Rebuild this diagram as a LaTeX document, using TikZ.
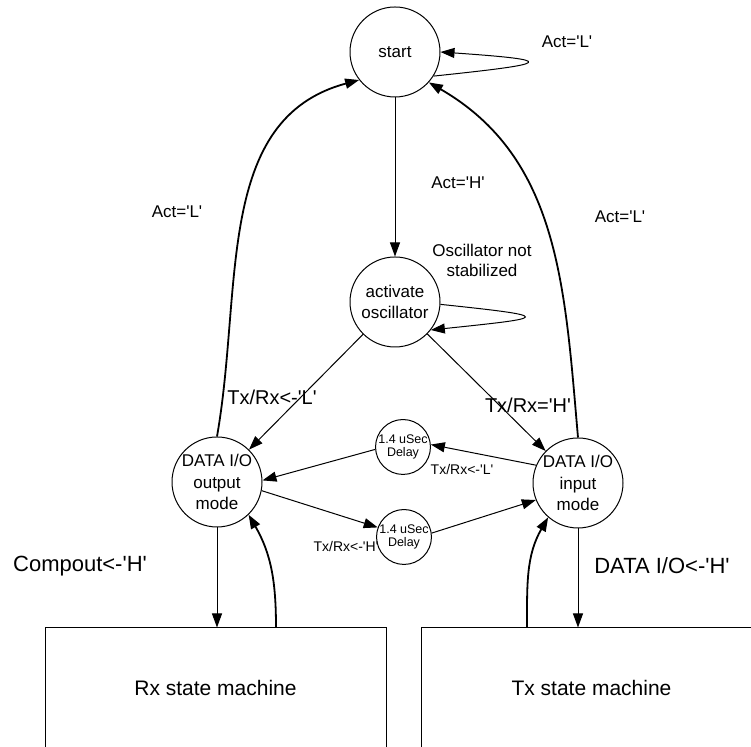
\documentclass[tikz,border=0pt]{standalone}
\usepackage{fontspec}
\setmainfont{Liberation Sans}
\usepackage{tikz}
\usetikzlibrary{automata,positioning,arrows.meta,calc}

\newcommand{\sq}{\textquotesingle}

\begin{document}
\begin{tikzpicture}[x=0.5pt,y=0.5pt,node distance=90pt,on grid,auto,
        >={Triangle[length=7pt,width=5pt]},line width=0.5pt,
        every state/.style={minimum size=45pt,inner sep=0pt,font=\fontsize{8.5}{10.6}\selectfont},
        delay/.style={state,minimum size=26pt,font=\fontsize{6.25}{6.5}\selectfont},
        machine/.style={draw,rectangle,minimum width=170.5pt,minimum height=60.5pt,font=\fontsize{10.5}{12}\selectfont},
        lbl/.style={font=\fontsize{8.5}{10}\selectfont,align=center},
        biglbl/.style={font=\fontsize{10}{12}\selectfont},
        hugelbl/.style={font=\fontsize{11}{13}\selectfont},
        smalllbl/.style={font=\fontsize{7}{8}\selectfont}]
        \useasboundingbox (0,0) rectangle (751,747);
        \node[state] (start) at (395,695) {start};
        \node[state,align=center] (osc) [below=125pt of start] {activate\\oscillator};
        \node[state,align=center] (out) [below left=90pt and 89pt of osc] {DATA I/O\\output\\mode};
        \node[state,align=center] (in) [below right=90.5pt and 91.5pt of osc] {DATA I/O\\input\\mode};
        \node[delay,align=center] (dly1) at (403,300) {1.4 uSec\\Delay};
        \node[delay,align=center] (dly2) at (404,210) {1.4 uSec\\Delay};
        \node[machine] (rx) at (215.5,58.5) {Rx state machine};
        \node[machine] (tx) at (591.5,58.5) {Tx state machine};
        % labels
        \node[lbl] (actl1) at (567,705) {Act=\sq L\sq};
        \node[lbl] (acth) at (458,564) {Act=\sq H\sq};
        \node[lbl] (actl2) at (177,535) {Act=\sq L\sq};
        \node[lbl] (actl3) at (620,530) {Act=\sq L\sq};
        \node[lbl] (notstab) at (482,487) {Oscillator not\\stabilized};
        \node[biglbl] (txl) at (272,350) {Tx/Rx<-\sq L\sq};
        \node[biglbl] (txh) at (528,342) {Tx/Rx=\sq H\sq};
        \node[smalllbl] (dlyl) at (462,277) {Tx/Rx<-\sq L\sq};
        \node[smalllbl] (dlyh) at (346,200) {Tx/Rx<-\sq H\sq};
        \node[hugelbl] (comp) at (80,181) {Compout<-\sq H\sq};
        \node[hugelbl] (dio) at (662,181) {DATA I/O<-\sq H\sq};
        \path[->]
        (start) edge (osc)
        (osc) edge (out)
        (osc) edge (in)
        (in.157) edge (dly1.5)
        (dly1.185) edge (out.2)
        (out.-11) edge (dly2.160)
        (dly2.8) edge (in.202)
        (out.south) edge (out.south |- rx.north)
        (in.south) edge (in.south |- tx.north);
        % self loops
        \draw[->] (start.-32) .. controls +(6:120) and +(-4:120) .. (start.0);
        \draw[->] (osc.-3) .. controls +(-6:118) and +(6:118) .. (osc.-38);
        \path[->,line width=0.9pt]
        (out.north) edge[out=80,in=195] (start.218)
        (in.north) edge[out=95,in=-30] (start.-42)
        ($(rx.north)+(60.5,0)$) edge[out=90,in=-60] (out.-46)
        ($(tx.north)+(-64.5,0)$) edge[out=90,in=240] (in.229);
\end{tikzpicture}
\end{document}
